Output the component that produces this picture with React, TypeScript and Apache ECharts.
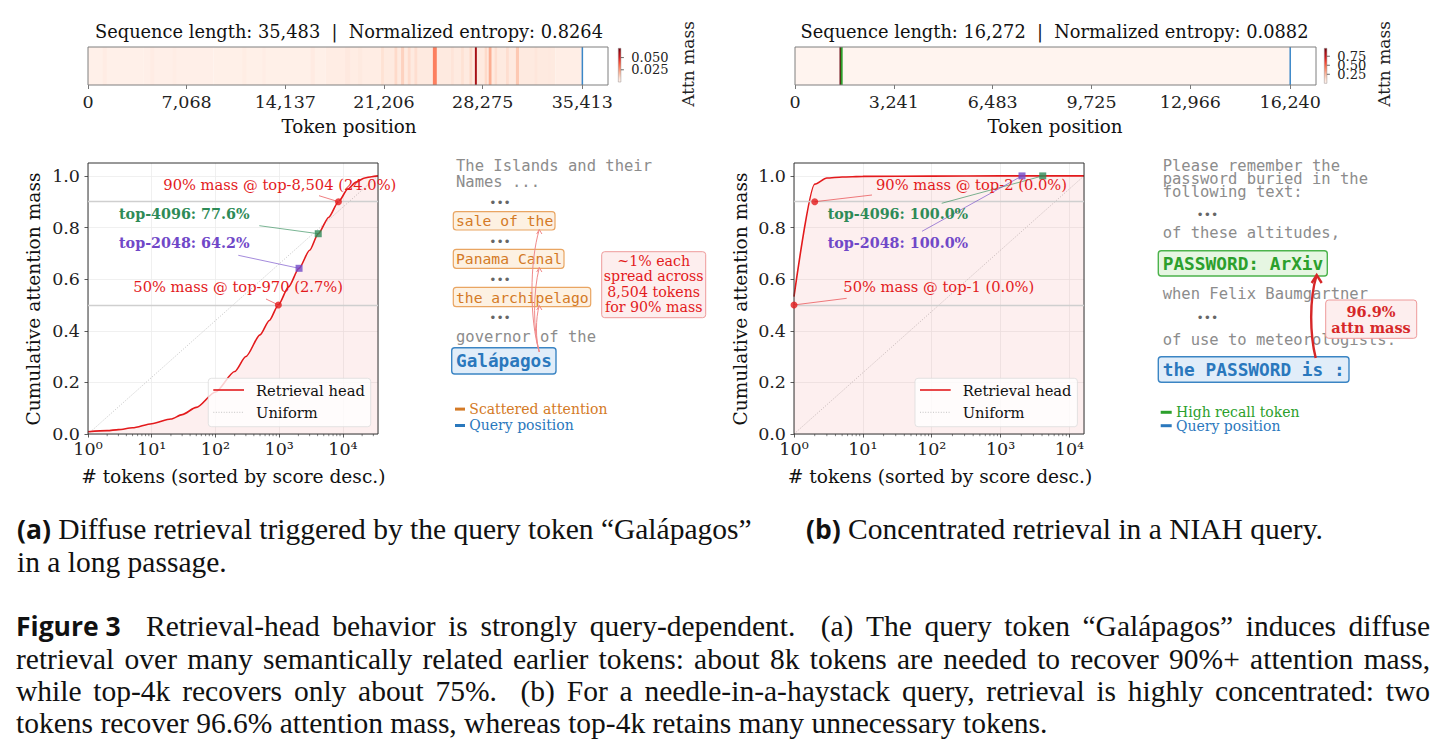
import React, { useEffect, useRef } from 'react';
import * as echarts from 'echarts';

const W = 1447;
const H = 753;
const SERIF = '"DejaVu Serif", serif';
const MONO = '"DejaVu Sans Mono", monospace';
const CAPF = '"Liberation Serif", "Times New Roman", serif';
const SANSB = '"Open Sans", "DejaVu Sans", sans-serif';

// ================= Panel (a) data =================
const seqLenA = 35483;
const entropyA = 0.8264;
const stripMaxA = 37257; // 1.05 x sequence length
const stripTicksA = [0, 7068, 14137, 21206, 28275, 35413];
const queryPosA = 35420;
const cbarMaxA = 0.069;
const cbarTicksA = [0.05, 0.025];
// [start token, end token, attention mass]
const baseBandsA = [
  [0, 4000, 0.002],
  [4000, 9000, 0.0024],
  [9000, 17000, 0.0022],
  [17000, 21000, 0.0034],
  [21000, 33500, 0.0045],
  [33500, 35413, 0.003],
];
// [center token, width in tokens, attention mass]
const stripesA = [
  [1200, 300, 0.0035], [4600, 300, 0.0035], [6200, 250, 0.0032], [11200, 300, 0.0034],
  [12600, 250, 0.0033], [16100, 300, 0.004], [18600, 350, 0.005], [19500, 300, 0.0045],
  [21100, 200, 0.008], [22060, 200, 0.01], [22540, 220, 0.012], [23010, 200, 0.0095],
  [23490, 200, 0.009], [24850, 280, 0.03], [26110, 200, 0.007], [26830, 200, 0.008],
  [27430, 200, 0.01], [27790, 140, 0.06], [28510, 180, 0.01], [28810, 200, 0.02],
  [29220, 180, 0.009], [30050, 200, 0.009], [30770, 220, 0.014], [32090, 200, 0.006],
  [33040, 200, 0.005],
];
const tokensA = [1, 2, 3, 5, 10, 20, 30, 50, 100, 200, 300, 500, 700, 970, 1400, 2048, 3000, 4096, 6000, 8504, 12000, 16000, 22000, 28000, 35483];
const cumMassA = [0.009, 0.013, 0.017, 0.024, 0.04, 0.058, 0.075, 0.103, 0.163, 0.242, 0.3, 0.384, 0.44, 0.5, 0.57, 0.642, 0.712, 0.776, 0.84, 0.9, 0.95, 0.976, 0.992, 0.997, 1.0];
const k50A = 970;
const k90A = 8504;
const budgets = [2048, 4096];
const budgetMassA = [0.642, 0.776];
const labels50A = '50% mass @ top-970 (2.7%)';
const labels90A = '90% mass @ top-8,504 (24.0%)';

// ================= Panel (b) data =================
const seqLenB = 16272;
const entropyB = 0.0882;
const stripMaxB = 17085.6;
const stripTicksB = [0, 3241, 6483, 9725, 12966, 16240];
const queryPosB = 16240;
const needlePosB = 1530;
const cbarMaxB = 0.97;
const cbarTicksB = [0.75, 0.5, 0.25];
const baseBandsB = [[0, 16240, 0.003]];
const stripesB = [[1490, 60, 0.969]];
const tokensB = [1, 2, 3, 5, 10, 100, 1000, 16272];
const cumMassB = [0.532, 0.968, 0.992, 0.996, 0.998, 0.999, 1.0, 1.0];
const k50B = 1;
const k90B = 2;
const budgetMassB = [1.0, 1.0];
const labels50B = '50% mass @ top-1 (0.0%)';
const labels90B = '90% mass @ top-2 (0.0%)';
const needleMassB = '96.9%';

const minorTicks = [2, 3, 4, 5, 6, 7, 8, 9, 20, 30, 40, 50, 60, 70, 80, 90, 200, 300, 400, 500, 600, 700, 800, 900,
  2000, 3000, 4000, 5000, 6000, 7000, 8000, 9000, 20000, 30000];

const RED = '#e31a1c';
const GREEN_T = '#2e8b57';
const PURPLE = '#7048c8';
const ORANGE = '#d47a26';
const BLUE = '#2a78bd';
const GRN = '#2ca02c';
const GRAY = '#8c8c8c';

const REDS = ['#fff5f0', '#fee0d2', '#fcbba1', '#fc9272', '#fb6a4a', '#ef3b2c', '#cb181d', '#a50f15', '#67000d'];
function hx(c: string) {
  return [parseInt(c.slice(1, 3), 16), parseInt(c.slice(3, 5), 16), parseInt(c.slice(5, 7), 16)];
}
function reds(t: number) {
  t = Math.max(0, Math.min(1, t));
  const f = t * (REDS.length - 1);
  const i = Math.min(Math.floor(f), REDS.length - 2);
  const u = f - i;
  const a = hx(REDS[i]);
  const b = hx(REDS[i + 1]);
  return `rgb(${Math.round(a[0] + (b[0] - a[0]) * u)},${Math.round(a[1] + (b[1] - a[1]) * u)},${Math.round(a[2] + (b[2] - a[2]) * u)})`;
}
const SUP = ['⁰', '¹', '²', '³', '⁴', '⁵'];
const TICK_FS = 17.5;
const TITLE_FS = 18.6;

function bandSeries(idx: number, data: number[][], vmax: number) {
  return {
    type: 'custom', xAxisIndex: idx, yAxisIndex: idx, silent: true, clip: true, z: 2,
    data,
    renderItem: (_p: any, api: any) => {
      const a = api.coord([api.value(0), 1]);
      const b = api.coord([api.value(1), 0]);
      return {
        type: 'rect',
        shape: { x: a[0], y: a[1], width: Math.max(b[0] - a[0], 1), height: b[1] - a[1] },
        style: { fill: reds(api.value(2) / vmax) },
      };
    },
  };
}
function vlineSeries(idx: number, pos: number, color: string, width: number) {
  return {
    type: 'custom', xAxisIndex: idx, yAxisIndex: idx, silent: true, clip: true, z: 3,
    data: [[pos, 0]],
    renderItem: (_p: any, api: any) => {
      const a = api.coord([api.value(0), 1]);
      const b = api.coord([api.value(0), 0]);
      return { type: 'line', shape: { x1: a[0], y1: a[1], x2: b[0], y2: b[1] }, style: { stroke: color, lineWidth: width } };
    },
  };
}
function minorTickSeries(idx: number, max: number) {
  return {
    type: 'custom', xAxisIndex: idx, yAxisIndex: idx, silent: true, clip: false, z: 3,
    data: minorTicks.filter((v) => v < max).map((v) => [v, 0]),
    renderItem: (_p: any, api: any) => {
      const p = api.coord([api.value(0), 0]);
      return { type: 'line', shape: { x1: p[0], y1: p[1], x2: p[0], y2: p[1] + 2.2 }, style: { stroke: '#333', lineWidth: 0.6 } };
    },
  };
}
function stripAxes(idx: number, max: number, ticks: number[]) {
  return {
    x: {
      type: 'value', gridIndex: idx, min: 0, max,
      axisLine: { show: false }, splitLine: { show: false },
      axisTick: { show: true, customValues: ticks, length: 4, lineStyle: { color: '#555', width: 0.8 } },
      axisLabel: {
        customValues: ticks, formatter: (v: number) => Math.round(v).toLocaleString('en-US'),
        fontFamily: SERIF, fontSize: TICK_FS, color: '#222', margin: 8,
      },
    },
    y: { type: 'value', gridIndex: idx, min: 0, max: 1, show: false },
  };
}
function curveAxes(idx: number, max: number) {
  return {
    x: {
      type: 'log', logBase: 10, gridIndex: idx, min: 1, max,
      axisLine: { show: false },
      axisTick: { show: true, length: 3.5, lineStyle: { color: '#333', width: 0.8 } },
      axisLabel: {
        formatter: (v: number) => '10' + SUP[Math.round(Math.log10(v))],
        showMaxLabel: false, fontFamily: SERIF, fontSize: TICK_FS, color: '#222', margin: 6,
      },
      splitLine: { show: true, lineStyle: { color: '#ececec', width: 0.8 } },
    },
    y: {
      type: 'value', gridIndex: idx, min: 0, max: 1.05, interval: 0.2,
      axisLine: { show: false },
      axisTick: { show: true, length: 3.5, customValues: [0, 0.2, 0.4, 0.6, 0.8, 1.0], lineStyle: { color: '#333', width: 0.8 } },
      axisLabel: {
        customValues: [0, 0.2, 0.4, 0.6, 0.8, 1.0], formatter: (v: number) => v.toFixed(1),
        fontFamily: SERIF, fontSize: TICK_FS, color: '#222', margin: 8,
      },
      splitLine: { show: true, lineStyle: { color: '#ececec', width: 0.8 } },
    },
  };
}
function curveSeries(idx: number, xs: number[], ys: number[], n: number, dots: number[][], squares: number[][]) {
  return [
    {
      type: 'line', xAxisIndex: idx, yAxisIndex: idx, silent: true, showSymbol: false, z: 2,
      data: [[1, 0], [n, 1]],
      lineStyle: { color: '#b5b5b5', width: 0.8, type: [1, 1.6] },
    },
    {
      type: 'line', xAxisIndex: idx, yAxisIndex: idx, silent: true, showSymbol: false, z: 3,
      data: xs.map((x, i) => [x, ys[i]]),
      smooth: 0.25, smoothMonotone: 'x',
      lineStyle: { color: RED, width: 1.6 },
      areaStyle: { color: 'rgba(227,26,28,0.1)', origin: 'start' },
      markLine: {
        silent: true, symbol: 'none', label: { show: false },
        lineStyle: { color: '#cfcfcf', width: 1.4, type: 'solid' },
        data: [{ yAxis: 0.9 }, { yAxis: 0.5 }],
      },
    },
    {
      type: 'scatter', xAxisIndex: idx, yAxisIndex: idx, silent: true, clip: false, z: 6,
      data: dots, symbol: 'circle', symbolSize: 7, itemStyle: { color: RED },
    },
    {
      type: 'scatter', xAxisIndex: idx, yAxisIndex: idx, silent: true, clip: false, z: 6,
      data: [squares[0]], symbol: 'rect', symbolSize: 7, itemStyle: { color: PURPLE },
    },
    {
      type: 'scatter', xAxisIndex: idx, yAxisIndex: idx, silent: true, clip: false, z: 6,
      data: [squares[1]], symbol: 'rect', symbolSize: 7, itemStyle: { color: GREEN_T },
    },
    minorTickSeries(idx, n),
  ];
}

function buildOption() {
  const sA = stripAxes(0, stripMaxA, stripTicksA);
  const sB = stripAxes(1, stripMaxB, stripTicksB);
  const cA = curveAxes(2, seqLenA);
  const cB = curveAxes(3, seqLenB);
  const toBands = (st: number[][]) => st.map((s) => [s[0] - s[1] / 2, s[0] + s[1] / 2, s[2]]);
  return {
    animation: false,
    backgroundColor: '#ffffff',
    grid: [
      { left: 88, top: 47, width: 520, height: 38, show: true, borderColor: '#7f7f7f', borderWidth: 1, backgroundColor: 'transparent', z: 5 },
      { left: 795, top: 47, width: 521, height: 38, show: true, borderColor: '#7f7f7f', borderWidth: 1, backgroundColor: 'transparent', z: 5 },
      { left: 88, top: 163, width: 290, height: 271, show: true, borderColor: '#333', borderWidth: 1, backgroundColor: 'transparent', z: 5 },
      { left: 794, top: 163, width: 290, height: 271, show: true, borderColor: '#333', borderWidth: 1, backgroundColor: 'transparent', z: 5 },
    ],
    xAxis: [sA.x, sB.x, cA.x, cB.x],
    yAxis: [sA.y, sB.y, cA.y, cB.y],
    series: [
      bandSeries(0, baseBandsA, cbarMaxA),
      bandSeries(0, toBands(stripesA), cbarMaxA),
      vlineSeries(0, queryPosA, '#3a87c8', 1.5),
      bandSeries(1, baseBandsB, cbarMaxB),
      bandSeries(1, toBands(stripesB), cbarMaxB),
      vlineSeries(1, needlePosB, GRN, 2),
      vlineSeries(1, queryPosB, '#3a87c8', 1.5),
      ...curveSeries(2, tokensA, cumMassA, seqLenA, [[k50A, 0.5], [k90A, 0.9]], [[budgets[0], budgetMassA[0]], [budgets[1], budgetMassA[1]]]),
      ...curveSeries(3, tokensB, cumMassB, seqLenB, [[k50B, 0.5], [k90B, 0.9]], [[budgets[0], budgetMassB[0]], [budgets[1], budgetMassB[1]]]),
    ],
  };
}

// -------- graphic helpers --------
const Z = 100;
function T(x: number, y: number, text: string, font: string, fill: string, extra: any = {}) {
  return { type: 'text', x, y, z: Z, silent: true, style: { text, font, fill, align: 'left', verticalAlign: 'middle', ...extra } };
}
function R(x: number, y: number, w: number, h: number, fill: string, stroke: string, lw = 1.2, r = 3, z = Z - 1) {
  return { type: 'rect', z, silent: true, shape: { x, y, width: w, height: h, r }, style: { fill, stroke, lineWidth: lw } };
}
function L(x1: number, y1: number, x2: number, y2: number, stroke: string, lw = 0.9, extra: any = {}) {
  return { type: 'line', z: Z, silent: true, shape: { x1, y1, x2, y2 }, style: { stroke, lineWidth: lw, ...extra } };
}
function curve(x1: number, y1: number, x2: number, y2: number, c1: number[], c2: number[], stroke: string, lw: number) {
  return {
    type: 'bezierCurve', z: Z + 1, silent: true,
    shape: { x1, y1, x2, y2, cpx1: c1[0], cpy1: c1[1], cpx2: c2[0], cpy2: c2[1] },
    style: { stroke, lineWidth: lw, fill: 'none' },
  };
}
function head(x: number, y: number, w: number, h: number, stroke: string, lw: number) {
  return { type: 'polyline', z: Z + 1, silent: true, shape: { points: [[x - w, y + h], [x, y], [x + w, y + h]] }, style: { stroke, lineWidth: lw, fill: 'none' } };
}

let measureCtx: CanvasRenderingContext2D | null = null;
function mw(text: string, font: string) {
  if (!measureCtx) measureCtx = document.createElement('canvas').getContext('2d');
  if (!measureCtx) return text.length * 10;
  measureCtx.font = font;
  return measureCtx.measureText(text).width;
}

function buildGraphics(chart: any) {
  const px = (g: number, v: number[]) => chart.convertToPixel({ xAxisIndex: g, yAxisIndex: g }, v) as number[];
  const g: any[] = [];
  const f = (size: number, fam: string, bold = false) => `${bold ? 'bold ' : ''}${size}px ${fam}`;

  // ---- strip titles / axis names / colorbars ----
  g.push(T(349, 31.7, `Sequence length: ${seqLenA.toLocaleString('en-US')}  |  Normalized entropy: ${entropyA.toFixed(4)}`, f(17.8, SERIF), '#111', { align: 'center' }));
  g.push(T(1054.5, 31.7, `Sequence length: ${seqLenB.toLocaleString('en-US')}  |  Normalized entropy: ${entropyB.toFixed(4)}`, f(17.8, SERIF), '#111', { align: 'center' }));
  g.push(T(349, 126.7, 'Token position', f(18.3, SERIF), '#111', { align: 'center' }));
  g.push(T(1055, 126.7, 'Token position', f(18.3, SERIF), '#111', { align: 'center' }));

  const cbar = (x: number, top: number, bot: number, vmax: number, ticks: number[], fmt: (v: number) => string, labelX: number) => {
    g.push({
      type: 'rect', z: Z, silent: true, shape: { x, y: top, width: 2.6, height: bot - top },
      style: {
        fill: new echarts.graphic.LinearGradient(0, 1, 0, 0, REDS.map((c, i) => ({ offset: i / (REDS.length - 1), color: c }))),
        stroke: '#9a8f8c', lineWidth: 0.5,
      },
    });
    const ys = ticks.map((v) => bot - (v / vmax) * (bot - top));
    ys.forEach((y) => g.push(L(x + 2.6, y, x + 5.6, y, '#444', 0.8)));
    const step = ticks.length > 1 ? (ys[ys.length - 1] - ys[0]) / (ticks.length - 1) : 12;
    g.push(T(x + 13, (ys[0] + ys[ys.length - 1]) / 2, ticks.map(fmt).join('\n'), f(13, SERIF), '#222', { lineHeight: step }));
    g.push({ ...T(labelX, 64, 'Attn mass', f(17, SERIF), '#222', { align: 'center' }), rotation: Math.PI / 2 });
  };
  cbar(618.3, 48.3, 82, cbarMaxA, cbarTicksA, (v) => v.toFixed(3), 688);
  cbar(1324.3, 48.3, 83.3, cbarMaxB, cbarTicksB, (v) => v.toFixed(2), 1384);

  // ---- curve axis titles ----
  g.push({ ...T(33.3, 299, 'Cumulative attention mass', f(TITLE_FS, SERIF), '#111', { align: 'center' }), rotation: Math.PI / 2 });
  g.push({ ...T(740, 299, 'Cumulative attention mass', f(TITLE_FS, SERIF), '#111', { align: 'center' }), rotation: Math.PI / 2 });
  g.push(T(233.3, 476.7, '# tokens (sorted by score desc.)', f(TITLE_FS, SERIF), '#111', { align: 'center' }));
  g.push(T(940, 476.7, '# tokens (sorted by score desc.)', f(TITLE_FS, SERIF), '#111', { align: 'center' }));

  const AF = 14.7;
  // ---- annotations (a) ----
  const a90 = px(2, [k90A, 0.9]);
  const a50 = px(2, [k50A, 0.5]);
  const a2048 = px(2, [budgets[0], budgetMassA[0]]);
  const a4096 = px(2, [budgets[1], budgetMassA[1]]);
  g.push(L(319, 195.7, a90[0], a90[1], RED, 0.8, { opacity: 0.7 }));
  g.push(L(259.3, 225.7, a4096[0], a4096[1], GREEN_T, 0.8, { opacity: 0.8 }));
  g.push(L(238.3, 255.3, a2048[0], a2048[1], PURPLE, 0.8, { opacity: 0.8 }));
  g.push(L(266, 299, a50[0], a50[1], RED, 0.8, { opacity: 0.7 }));
  g.push(T(163.3, 184, labels90A, f(AF, SERIF), RED));
  g.push(T(119, 214.3, `top-${budgets[1]}: ${(budgetMassA[1] * 100).toFixed(1)}%`, f(14.3, SERIF, true), GREEN_T));
  g.push(T(119, 242.7, `top-${budgets[0]}: ${(budgetMassA[0] * 100).toFixed(1)}%`, f(14.3, SERIF, true), PURPLE));
  g.push(T(133.3, 286.7, labels50A, f(AF, SERIF), RED));

  // ---- annotations (b) ----
  const b90 = px(3, [k90B, 0.9]);
  const b50 = px(3, [k50B, 0.5]);
  const b2048 = px(3, [budgets[0], budgetMassB[0]]);
  const b4096 = px(3, [budgets[1], budgetMassB[1]]);
  g.push(L(872, 195, b90[0], b90[1], RED, 0.8, { opacity: 0.7 }));
  g.push(L(941.7, 203.3, b4096[0], b4096[1], GREEN_T, 0.8, { opacity: 0.8 }));
  g.push(L(922, 231.3, b2048[0], b2048[1], PURPLE, 0.8, { opacity: 0.8 }));
  g.push(L(846.7, 298.3, b50[0], b50[1], RED, 0.8, { opacity: 0.7 }));
  g.push(T(876, 184, labels90B, f(AF, SERIF), RED));
  g.push(T(827.7, 214.3, `top-${budgets[1]}: ${(budgetMassB[1] * 100).toFixed(1)}%`, f(14.3, SERIF, true), GREEN_T));
  g.push(T(827.7, 242.7, `top-${budgets[0]}: ${(budgetMassB[0] * 100).toFixed(1)}%`, f(14.3, SERIF, true), PURPLE));
  g.push(T(843.3, 286.7, labels50B, f(AF, SERIF), RED));

  // ---- legends in plots ----
  const legend = (x: number) => {
    g.push(R(x, 378.3, 162.4, 48.4, 'rgba(255,255,255,0.8)', '#dcdcdc', 0.8, 3));
    g.push(L(x + 5, 390, x + 35.7, 390, RED, 1.6));
    g.push(L(x + 5, 412.3, x + 35.7, 412.3, '#b5b5b5', 0.8, { lineDash: [1, 1.6] }));
    g.push(T(x + 47.7, 390, 'Retrieval head', f(AF, SERIF), '#111'));
    g.push(T(x + 47.7, 412.3, 'Uniform', f(AF, SERIF), '#111'));
  };
  legend(208.3);
  legend(915);

  // ---- text panel (a) ----
  const gm = f(15.5, MONO);
  const dots = (x: number, y: number) => g.push(T(x, y, '•••', f(12, MONO), '#666', { align: 'center' }));
  g.push(T(456, 174, 'The Islands and their\nNames ...', gm, GRAY, { lineHeight: 16.6 }));
  dots(500, 203.3);
  g.push(R(453.3, 211.7, 101.7, 18.3, '#fdf1e2', '#e9a562'));
  g.push(T(456, 220.6, 'sale of the', f(14.7, MONO), ORANGE));
  dots(500, 241.7);
  g.push(R(453.3, 249.3, 110.7, 19, '#fdf1e2', '#e9a562'));
  g.push(T(456, 258.6, 'Panama Canal', f(14.7, MONO), ORANGE));
  dots(500, 280);
  g.push(R(453.3, 287.3, 137.4, 19.4, '#fdf1e2', '#e9a562'));
  g.push(T(456, 297, 'the archipelago', f(14.7, MONO), ORANGE));
  dots(500, 317.7);
  g.push(T(456, 336.7, 'governor of the', gm, GRAY));
  g.push(R(451.7, 347.7, 104.3, 26.3, '#e1edf9', '#3b85c4', 1.4));
  g.push(T(456, 361, 'Galápagos', f(17.7, MONO, true), BLUE));
  const ac = '#f08a8a';
  g.push(curve(539.3, 352, 539.3, 229.5, [529.5, 320], [529.5, 262], ac, 1));
  g.push(head(539.3, 229.5, 2.6, 4.5, ac, 1));
  g.push(curve(539.3, 352, 539.3, 267.5, [533, 330], [533, 292], ac, 1));
  g.push(head(539.3, 267.5, 2.6, 4.5, ac, 1));
  g.push(curve(539.3, 352, 539.3, 305.5, [535.5, 340], [535.5, 318], ac, 1));
  g.push(head(539.3, 305.5, 2.6, 4.5, ac, 1));
  g.push(R(601.7, 251.7, 104, 66, '#fdeeee', '#ee9a9a', 1, 3));
  g.push(T(653.7, 284, `~1% each\nspread across\n${k90A.toLocaleString('en-US')} tokens\nfor 90% mass`, f(14.2, SERIF), RED, { align: 'center', lineHeight: 15.6 }));
  g.push(R(455, 407.6, 10, 3, ORANGE, ORANGE, 0, 0));
  g.push(T(469.3, 409, 'Scattered attention', f(14, SERIF), ORANGE));
  g.push(R(455, 424, 10, 3, BLUE, BLUE, 0, 0));
  g.push(T(469.3, 425.3, 'Query position', f(14, SERIF), BLUE));

  // ---- text panel (b) ----
  g.push(T(1162.7, 179, 'Please remember the\npassword buried in the\nfollowing text:', gm, GRAY, { lineHeight: 13.3 }));
  dots(1207.3, 215);
  g.push(T(1162.7, 233.3, 'of these altitudes,', gm, GRAY));
  g.push(R(1158.3, 250.7, 169, 25.3, '#e6f6e2', '#4cb34c', 1.4));
  g.push(T(1162.7, 263.6, 'PASSWORD: ArXiv', f(17.8, MONO, true), GRN));
  g.push(T(1162.7, 294, 'when Felix Baumgartner', gm, GRAY));
  dots(1207.3, 317.7);
  g.push(T(1162.7, 340, 'of use to meteorologists.', gm, GRAY));
  g.push(R(1158.3, 356.7, 190.7, 25.6, '#e1edf9', '#3b85c4', 1.4));
  g.push(T(1162.7, 369.6, 'the PASSWORD is :', f(17.8, MONO, true), BLUE));
  g.push(curve(1315.7, 358, 1316.7, 275, [1310, 335], [1309, 300], '#d62728', 2.4));
  g.push(head(1316.7, 275, 5, 8, '#d62728', 2.4));
  g.push(R(1325.7, 300, 91, 38.3, '#fdeeee', '#ee9a9a', 1, 3, Z + 2));
  g.push({ ...T(1371, 319, `${needleMassB}\nattn mass`, f(14.5, SERIF, true), '#d62728', { align: 'center', lineHeight: 16 }), z: Z + 3 });
  g.push(R(1160.7, 410.8, 11, 3, GRN, GRN, 0, 0));
  g.push(T(1176, 412.3, 'High recall token', f(14, SERIF), GRN));
  g.push(R(1160.7, 424.2, 11, 3, BLUE, BLUE, 0, 0));
  g.push(T(1176, 425.7, 'Query position', f(14, SERIF), BLUE));

  // ---- captions ----
  const capSize = 29.5;
  const boldSize = 26.5;
  const mainFont = `${capSize}px ${CAPF}`;
  const boldFont = `bold ${boldSize}px ${SANSB}`;
  const cap = (x: number, y: number, bold: string, rest: string, justifyTo = 0) => {
    const rich: any = { b: { fontFamily: SANSB, fontWeight: 'bold', fontSize: boldSize, fill: '#111' } };
    let body = rest;
    if (justifyTo > 0) {
      const natural = (bold ? mw(bold, boldFont) : 0) + mw(rest, mainFont);
      const nSp = (rest.match(/ /g) || []).length;
      const gap = mw(' ', mainFont) + (justifyTo - x - natural) / nSp;
      rich.s = { width: gap, fontFamily: CAPF, fontSize: capSize, fill: '#111' };
      body = rest.replace(/ /g, '{s| }');
    }
    const text = (bold ? `{b|${bold}}` : '') + body;
    g.push({ type: 'text', x, y, z: Z, silent: true, style: { text, fontFamily: CAPF, fontSize: capSize, fill: '#111', align: 'left', verticalAlign: 'middle', rich } });
  };
  cap(17, 529, '(a)', ' Diffuse retrieval triggered by the query token “Galápagos”');
  cap(17, 562, '', 'in a long passage.');
  cap(806, 529, '(b)', ' Concentrated retrieval in a NIAH query.');
  cap(16, 626, 'Figure 3', '  Retrieval-head behavior is strongly query-dependent.  (a) The query token “Galápagos” induces diffuse', 1430);
  cap(16, 659, '', 'retrieval over many semantically related earlier tokens: about 8k tokens are needed to recover 90%+ attention mass,', 1430);
  cap(16, 691, '', 'while top-4k recovers only about 75%.  (b) For a needle-in-a-haystack query, retrieval is highly concentrated: two', 1430);
  cap(16, 723, '', 'tokens recover 96.6% attention mass, whereas top-4k retains many unnecessary tokens.');

  return g;
}

export default function App() {
  const ref = useRef<HTMLDivElement>(null);
  useEffect(() => {
    const chart = echarts.init(ref.current!, null, { renderer: 'svg', width: W, height: H });
    chart.setOption(buildOption() as any);
    chart.setOption({ graphic: buildGraphics(chart) } as any);
    return () => chart.dispose();
  }, []);
  return <div ref={ref} style={{ position: 'absolute', left: 0, top: 0, width: W, height: H, background: '#fff' }} />;
}
